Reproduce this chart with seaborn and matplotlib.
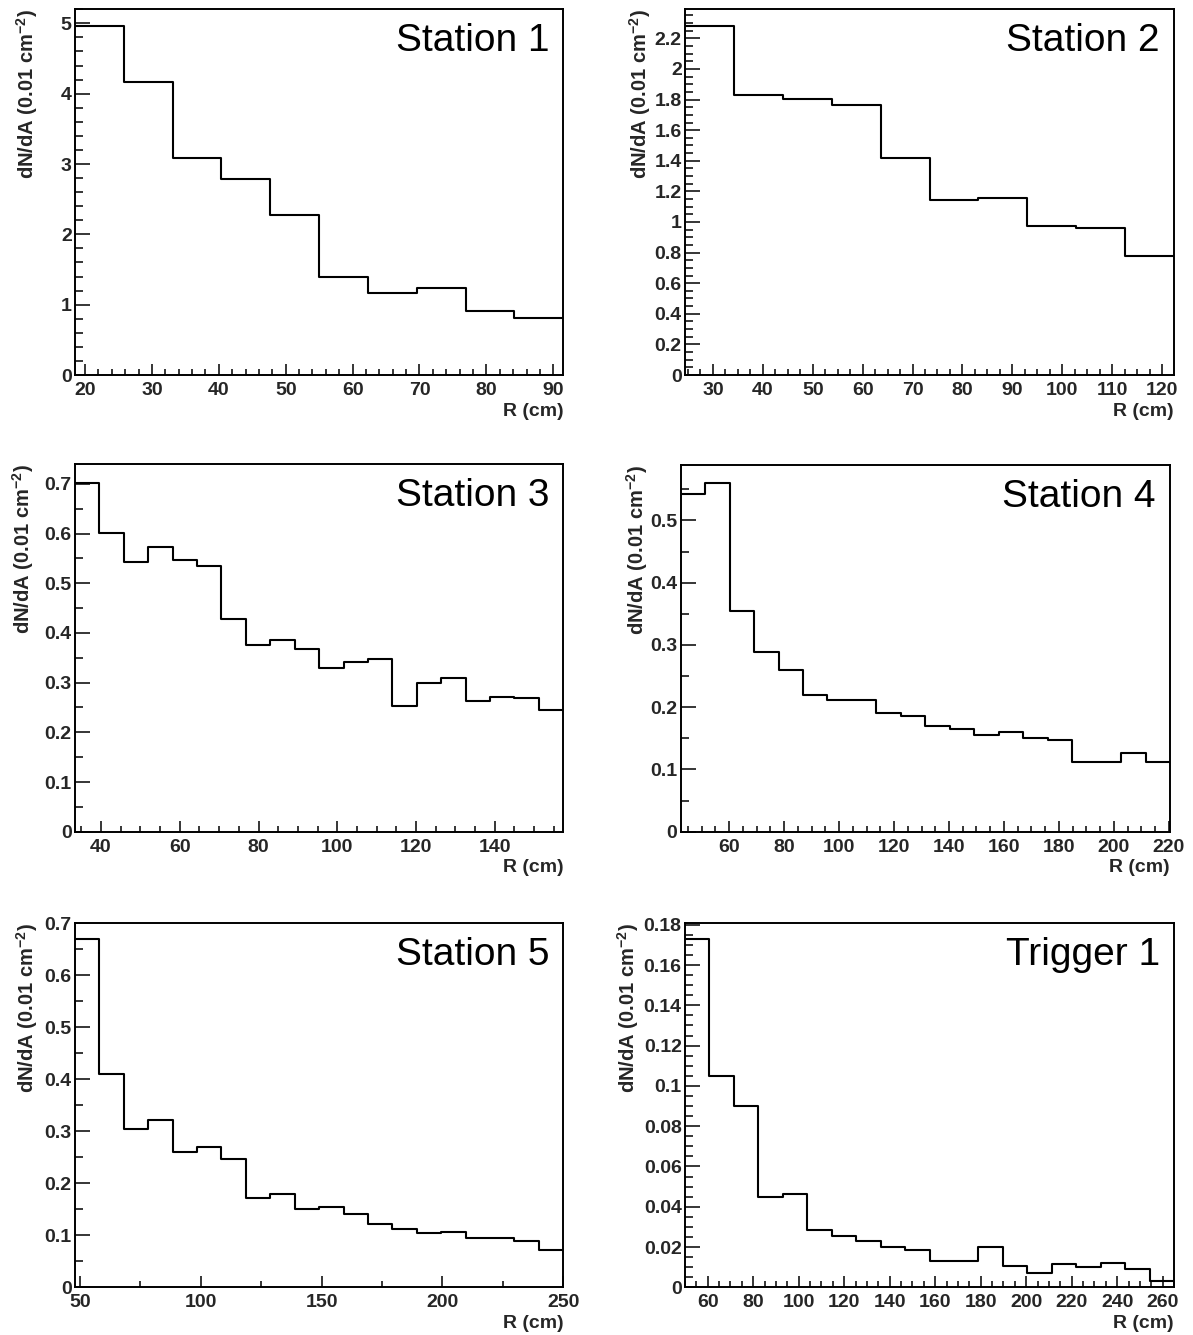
import numpy as np
import pandas as pd
import matplotlib
matplotlib.use("Agg")
import matplotlib.pyplot as plt
from matplotlib.ticker import MultipleLocator, FuncFormatter
import seaborn as sns

# ---- data: dN/dA per radial bin (units of 0.01 cm^-2) ----
panel_names = ["Station 1", "Station 2", "Station 3", "Station 4", "Station 5", "Trigger 1"]

# histogram range (R in cm); bins are uniform over the range
station1_range = (18.5, 91.5)
station2_range = (24.4, 122.4)
station3_range = (33.4, 157.4)
station4_range = (42.4, 220.4)
station5_range = (48.0, 250.0)
trigger1_range = (50.0, 265.0)

station1_dnda = [4.96, 4.17, 3.09, 2.78, 2.27, 1.40, 1.17, 1.24, 0.91, 0.81]
station2_dnda = [2.28, 1.83, 1.806, 1.767, 1.42, 1.145, 1.158, 0.977, 0.96, 0.78]
station3_dnda = [0.701, 0.602, 0.543, 0.572, 0.546, 0.535, 0.428, 0.376, 0.385, 0.368,
                 0.330, 0.342, 0.348, 0.252, 0.299, 0.310, 0.264, 0.272, 0.269, 0.244]
station4_dnda = [0.542, 0.560, 0.355, 0.289, 0.260, 0.219, 0.211, 0.211, 0.190, 0.186,
                 0.170, 0.165, 0.155, 0.160, 0.151, 0.147, 0.112, 0.112, 0.126, 0.112]
station5_dnda = [0.669, 0.410, 0.305, 0.322, 0.261, 0.270, 0.246, 0.171, 0.179, 0.151,
                 0.154, 0.141, 0.122, 0.113, 0.105, 0.107, 0.094, 0.094, 0.089, 0.072]
trigger1_dnda = [0.1729, 0.1051, 0.0902, 0.0447, 0.0464, 0.0285, 0.0257, 0.0230, 0.0202, 0.0187,
                 0.0131, 0.0131, 0.0199, 0.0108, 0.0073, 0.0116, 0.0099, 0.0123, 0.0089, 0.0031]

y_tops = [5.2, 2.39, 0.74, 0.589, 0.701, 0.181]

ranges = [station1_range, station2_range, station3_range,
          station4_range, station5_range, trigger1_range]
values = [station1_dnda, station2_dnda, station3_dnda,
          station4_dnda, station5_dnda, trigger1_dnda]

# ---- layout (pixels: left, top, right, bottom) ----
W, H = 1193, 1335
frames = [
    (75.0, 9.3, 563.3, 375.0),
    (685.0, 9.3, 1174.0, 375.0),
    (75.0, 464.0, 563.3, 831.7),
    (680.7, 465.0, 1170.0, 831.7),
    (75.0, 922.7, 563.3, 1287.3),
    (685.0, 922.7, 1174.0, 1287.3),
]
# distance (px) from left frame to the centre of the y title
ytitle_offsets = [48, 45, 52, 44, 48, 57]
# (x major, x minor, y major, y minor)
tick_steps = [
    (10, 2, 1, 0.2),
    (10, 2.5, 0.2, 0.05),
    (20, 5, 0.1, 0.05),
    (20, 5, 0.1, 0.05),
    (50, 25, 0.1, 0.05),
    (20, 5, 0.02, 0.005),
]

sns.set_theme(style="ticks")
plt.rcParams["font.family"] = ["Liberation Sans", "DejaVu Sans"]
plt.rcParams["mathtext.fontset"] = "custom"
plt.rcParams["mathtext.rm"] = "Liberation Sans:bold"
plt.rcParams["mathtext.bf"] = "Liberation Sans:bold"
plt.rcParams["mathtext.default"] = "bf"

fig = plt.figure(figsize=(W / 100, H / 100), dpi=100)
fmt = FuncFormatter(lambda v, p: "%g" % round(v, 6))

for name, rng, vals, ytop, fr, steps, yoff in zip(panel_names, ranges, values, y_tops,
                                                    frames, tick_steps, ytitle_offsets):
    l, t, r, b = fr
    wpx, hpx = r - l, b - t
    ax = fig.add_axes([l / W, 1 - b / H, wpx / W, hpx / H])

    edges = np.linspace(rng[0], rng[1], len(vals) + 1)
    df = pd.DataFrame({"R": 0.5 * (edges[:-1] + edges[1:]), "dnda": vals})
    sns.histplot(data=df, x="R", weights="dnda", bins=edges.tolist(), element="step",
                 fill=False, color="black", linewidth=1.5, ax=ax)

    ax.set_xlim(rng)
    ax.set_ylim(0, ytop)

    xmaj, xmin, ymaj, ymin = steps
    ax.xaxis.set_major_locator(MultipleLocator(xmaj))
    ax.xaxis.set_minor_locator(MultipleLocator(xmin))
    ax.yaxis.set_major_locator(MultipleLocator(ymaj))
    ax.yaxis.set_minor_locator(MultipleLocator(ymin))
    ax.xaxis.set_major_formatter(fmt)
    ax.yaxis.set_major_formatter(fmt)

    ax.tick_params(which="both", direction="in", top=False, right=False,
                   color="black", width=1.1)
    ax.tick_params(axis="x", which="major", length=8, labelsize=14, pad=5)
    ax.tick_params(axis="x", which="minor", length=4.3)
    ax.tick_params(axis="y", which="major", length=10.8, labelsize=14, pad=2.4)
    ax.tick_params(axis="y", which="minor", length=5.8)
    for lab in ax.get_xticklabels() + ax.get_yticklabels():
        lab.set_fontweight("bold")

    for sp in ax.spines.values():
        sp.set_visible(True)
        sp.set_linewidth(1.4)
        sp.set_color("black")

    ax.set_xlabel("R (cm)", fontsize=14, fontweight="bold", ha="right", va="center")
    ax.xaxis.set_label_coords(1.0, -36 / hpx)
    ax.set_ylabel(r"dN/dA (0.01 cm$^{-2}$)", fontsize=14.5, fontweight="bold",
                  ha="right", va="center")
    ax.yaxis.set_label_coords(-yoff / wpx, 1.0)

    ax.annotate(name, xy=(1, 1), xycoords="axes fraction", xytext=(-14, -32),
                textcoords="offset pixels", ha="right", va="center",
                fontsize=28, color="black")

fig.savefig("out.png", dpi=100, facecolor="white")
